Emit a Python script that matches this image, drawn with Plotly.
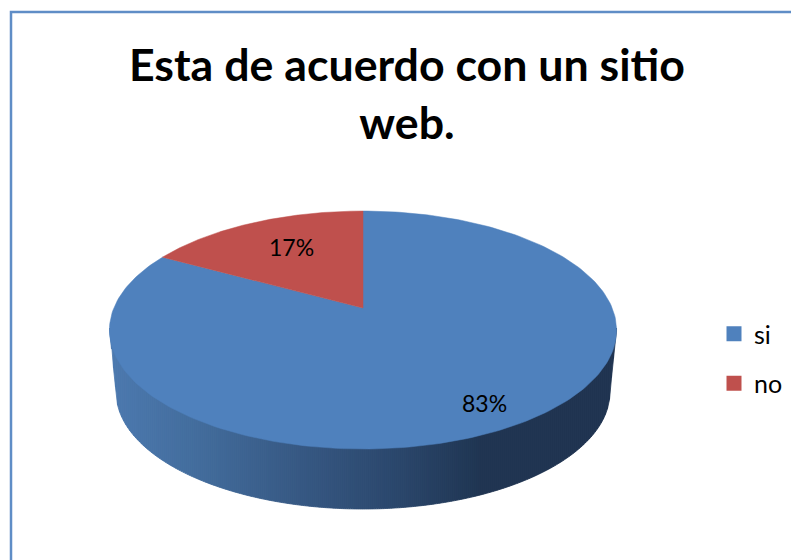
import numpy as np
import plotly.graph_objects as go

title_lines = ["Esta de acuerdo con un sitio", "web."]
categories = ["si", "no"]
shares = [83, 17]
colors = ["#4f81bd", "#bf504d"]

W, H = 791, 560
PIVOT_X, PIVOT_Y = 363.0, 308.0
SX, SY, PERSP = 249.2, 114.9, 0.185
DEPTH_CY, DEPTH_RX, DEPTH_RY = 392.0, 247.0, 117.0
RIM_CY, RIM_RX, RIM_RY = 330.0, 253.5, 119.0
LABEL_RADII = [0.83, 0.62]
LABEL_YSHIFT = [0, 5]
SIDE_STOPS = [(110, (76, 121, 175)), (200, (66, 108, 156)), (300, (54, 88, 131)),
              (400, (42, 70, 107)), (480, (31, 53, 82)), (617, (31, 51, 80))]


def project(theta, r=1.0):
    """Perspective projection of a disc point; theta is clockwise from 12 o'clock."""
    X, Y = r * np.sin(theta), -r * np.cos(theta)
    d = 1 - PERSP * Y
    return PIVOT_X + SX * X / d, PIVOT_Y + SY * Y / d


def side_colour(x):
    xs = [s[0] for s in SIDE_STOPS]
    rgb = [int(np.interp(x, xs, [s[1][i] for s in SIDE_STOPS])) for i in range(3)]
    return f"rgb({rgb[0]},{rgb[1]},{rgb[2]})"


def lower_edges(x):
    dx = x - PIVOT_X
    top = RIM_CY + RIM_RY * np.sqrt(np.clip(1 - (dx / RIM_RX) ** 2, 0, 1))
    if abs(dx) <= DEPTH_RX:
        bottom = DEPTH_CY + DEPTH_RY * np.sqrt(1 - (dx / DEPTH_RX) ** 2)
    else:
        frac = (RIM_RX - abs(dx)) / (RIM_RX - DEPTH_RX)
        bottom = RIM_CY + frac * (DEPTH_CY - RIM_CY)
    return top, bottom


fig = go.Figure()

# Rim of the pie: vertical strips carrying the horizontal gradient
edges = np.arange(PIVOT_X - RIM_RX, PIVOT_X + RIM_RX + 2, 2.0)
for a, b in zip(edges[:-1], edges[1:]):
    b = min(b, PIVOT_X + RIM_RX)
    xs_a = lower_edges(a)
    xs_b = lower_edges(b)
    col = side_colour((a + b) / 2)
    fig.add_trace(go.Scatter(
        x=[a, b, b, a, a], y=[xs_a[0] - 2, xs_b[0] - 2, xs_b[1], xs_a[1], xs_a[0] - 2],
        mode="lines", fill="toself", fillcolor=col, line=dict(color=col, width=0.8),
        showlegend=False, hoverinfo="skip"))

# Top face wedges, driven by the shares
start = 0.0
total = sum(shares)
for name, share, colour, lr, ls in zip(categories, shares, colors, LABEL_RADII, LABEL_YSHIFT):
    end = start + 2 * np.pi * share / total
    t = np.linspace(start, end, 240)
    px, py = project(t)
    fig.add_trace(go.Scatter(
        x=np.r_[PIVOT_X, px, PIVOT_X], y=np.r_[PIVOT_Y, py, PIVOT_Y],
        mode="lines", fill="toself", fillcolor=colour, line=dict(color=colour, width=0.5),
        showlegend=False, hoverinfo="skip"))
    lx, ly = project((start + end) / 2, lr)
    fig.add_annotation(x=float(lx), y=float(ly), yshift=ls, text=f"{share}%", showarrow=False,
                       font=dict(family="Lato", size=23, color="#000000"))
    start = end

# Legend entries
for i, (name, colour) in enumerate(zip(categories, colors)):
    fig.add_trace(go.Scatter(
        x=[None], y=[None], mode="markers", name=name, legendgroup=name,
        marker=dict(symbol="square", size=15, color=colour)))

# Chart-area frame
fig.add_shape(type="rect", x0=11, y0=12, x1=W + 20, y1=H + 20,
              line=dict(color="#5f8dc6", width=2.5), fillcolor="rgba(0,0,0,0)")

fig.update_layout(
    width=W, height=H, autosize=False,
    margin=dict(l=0, r=0, t=0, b=0),
    paper_bgcolor="#ffffff", plot_bgcolor="#ffffff",
    xaxis=dict(range=[0, W], visible=False, fixedrange=True),
    yaxis=dict(range=[H, 0], visible=False, fixedrange=True),
    title=dict(text="<br>".join(title_lines), x=407 / W, xanchor="center",
               y=1 - 81 / H, yanchor="top",
               font=dict(family="Lato", size=44.7, color="#000000", weight="bold")),
    legend=dict(x=714 / W, xanchor="left", y=1 - 311 / H, yanchor="top",
                font=dict(family="Lato", size=25, color="#000000"),
                tracegroupgap=14, bgcolor="rgba(0,0,0,0)", itemwidth=30),
    hovermode=False,
    showlegend=True,
)

fig.write_html("out.html", config={"displayModeBar": False},
               post_script="document.body.style.margin='0';document.body.style.overflow='hidden';")
